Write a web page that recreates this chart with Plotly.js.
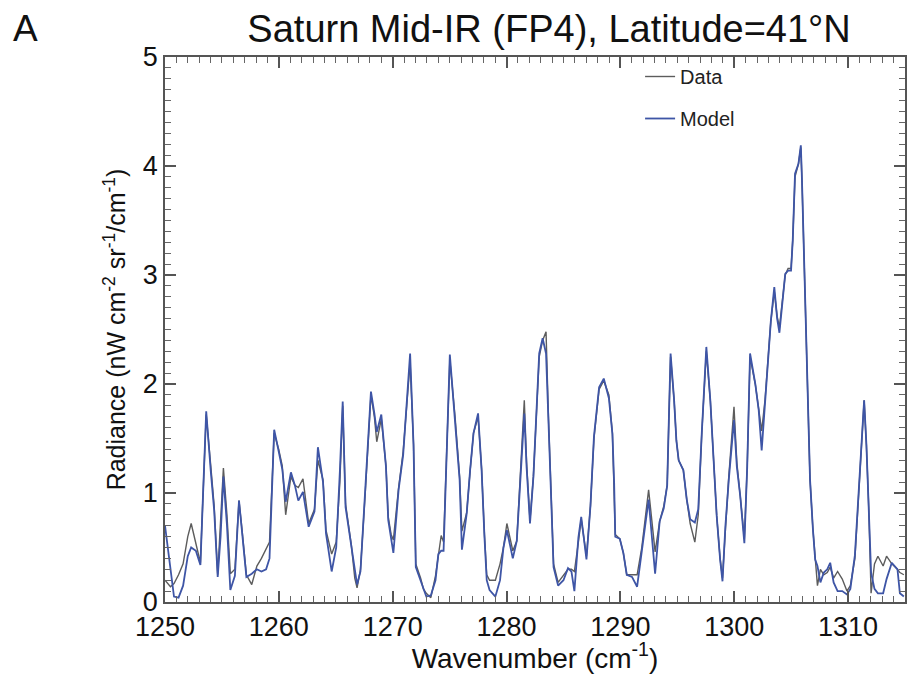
<!DOCTYPE html>
<html>
<head>
<meta charset="utf-8">
<script src="https://cdn.plot.ly/plotly-3.0.1.min.js"></script>
<style>html,body{margin:0;padding:0;background:#fff;}#chart{width:908px;height:674px;}</style>
</head>
<body>
<div id="chart"></div>
<script>
// Wavenumber (cm^-1) samples
const wavenumber = [
1250.00,1250.48,1250.79,1251.19,1251.59,1252.00,1252.30,1252.71,1253.11,1253.31,
1253.62,1254.02,1254.32,1254.63,1254.88,1255.13,1255.44,1255.74,1256.14,1256.50,
1256.75,1257.15,1257.62,1258.07,1258.47,1258.88,1259.18,1259.59,1259.99,1260.30,
1260.60,1261.06,1261.41,1261.71,1262.12,1262.62,1263.13,1263.43,1263.88,1264.14,
1264.64,1265.04,1265.36,1265.61,1265.86,1266.37,1266.67,1266.87,1267.17,1267.59,
1267.89,1268.09,1268.39,1268.60,1269.00,1269.41,1269.61,1269.86,1270.06,1270.52,
1270.92,1271.53,1271.83,1272.03,1272.45,1272.70,1272.95,1273.35,1273.76,1274.01,
1274.26,1274.47,1274.72,1275.02,1275.48,1275.88,1276.08,1276.50,1276.80,1277.10,
1277.50,1277.81,1278.06,1278.26,1278.51,1279.02,1279.43,1279.73,1280.03,1280.55,
1280.90,1281.25,1281.56,1281.76,1282.06,1282.36,1282.67,1282.87,1283.17,1283.47,
1283.68,1283.98,1284.13,1284.53,1285.00,1285.40,1285.70,1285.96,1286.31,1286.56,
1287.02,1287.37,1287.68,1288.13,1288.54,1288.99,1289.30,1289.45,1289.55,1289.95,
1290.26,1290.56,1291.02,1291.47,1291.88,1292.18,1292.48,1293.05,1293.45,1293.81,
1294.11,1294.26,1294.41,1294.72,1294.92,1295.12,1295.53,1295.83,1296.13,1296.54,
1296.84,1297.15,1297.55,1297.90,1298.21,1298.46,1298.76,1298.97,1299.22,1299.52,
1299.98,1300.23,1300.53,1300.89,1301.14,1301.39,1301.85,1302.15,1302.41,1302.71,
1303.01,1303.21,1303.52,1303.77,1303.97,1304.28,1304.48,1304.73,1304.99,1305.14,
1305.34,1305.64,1305.85,1305.95,1306.25,1306.45,1306.66,1306.91,1307.11,1307.31,
1307.57,1307.87,1308.17,1308.43,1308.73,1309.08,1309.49,1309.90,1310.20,1310.60,
1310.91,1311.21,1311.41,1311.61,1311.82,1312.02,1312.32,1312.62,1313.08,1313.38,
1313.84,1314.34,1314.55,1314.90
];
// Model radiance (nW cm^-2 sr^-1 / cm^-1)
const modelRadiance = [
0.70,0.30,0.05,0.04,0.15,0.42,0.50,0.47,0.34,0.90,
1.75,1.20,0.84,0.23,0.60,1.15,0.71,0.11,0.24,0.93,
0.66,0.23,0.26,0.30,0.28,0.30,0.40,1.58,1.38,1.22,
0.92,1.19,1.07,0.93,1.01,0.69,0.83,1.42,1.10,0.63,
0.28,0.50,1.20,1.84,0.87,0.52,0.28,0.16,0.28,1.00,
1.58,1.93,1.73,1.56,1.72,1.24,0.75,0.57,0.45,1.03,
1.35,2.28,1.44,0.32,0.20,0.11,0.05,0.06,0.20,0.44,
0.47,0.47,1.32,2.27,1.65,1.12,0.48,0.81,1.21,1.55,
1.73,1.21,0.60,0.20,0.11,0.05,0.20,0.50,0.66,0.40,
0.56,1.20,1.73,1.24,0.72,1.15,1.85,2.28,2.42,2.28,
1.67,0.75,0.32,0.15,0.20,0.31,0.28,0.10,0.59,0.78,
0.39,0.88,1.52,1.97,2.05,1.87,1.54,1.10,0.60,0.58,
0.45,0.25,0.23,0.14,0.47,0.74,0.94,0.26,0.74,0.86,
1.07,1.68,2.28,1.85,1.48,1.30,1.21,0.94,0.76,0.73,
0.85,1.55,2.34,1.85,1.30,0.79,0.39,0.19,0.69,1.12,
1.67,1.24,0.97,0.54,1.24,2.28,2.00,1.76,1.39,1.86,
2.35,2.57,2.89,2.60,2.47,2.80,3.01,3.04,3.04,3.32,
3.93,4.02,4.19,3.87,2.80,1.89,1.12,0.67,0.39,0.33,
0.18,0.27,0.30,0.36,0.18,0.10,0.10,0.07,0.12,0.43,
0.98,1.59,1.85,1.44,0.83,0.27,0.12,0.08,0.08,0.21,
0.36,0.30,0.08,0.05
];
// Observed (data) radiance
const dataRadiance = [
0.20,0.14,0.17,0.25,0.35,0.60,0.72,0.55,0.36,0.90,
1.72,1.25,0.88,0.25,0.70,1.23,0.80,0.26,0.30,0.93,
0.68,0.25,0.16,0.33,0.40,0.48,0.55,1.55,1.40,1.25,
0.80,1.15,1.07,1.05,1.13,0.72,0.85,1.30,1.12,0.66,
0.44,0.55,1.10,1.80,0.90,0.52,0.22,0.13,0.30,1.00,
1.58,1.90,1.70,1.47,1.68,1.25,0.78,0.62,0.57,1.05,
1.38,2.20,1.45,0.35,0.22,0.12,0.08,0.04,0.24,0.45,
0.61,0.55,1.30,2.22,1.70,1.15,0.65,0.82,1.20,1.55,
1.70,1.22,0.62,0.25,0.20,0.20,0.35,0.50,0.72,0.47,
0.56,1.25,1.85,1.28,0.75,1.15,1.85,2.25,2.40,2.48,
1.70,0.78,0.35,0.18,0.25,0.30,0.30,0.28,0.55,0.76,
0.42,0.88,1.50,1.95,2.03,1.90,1.55,1.10,0.62,0.58,
0.45,0.25,0.25,0.25,0.50,0.78,1.03,0.46,0.74,0.88,
1.07,1.68,2.25,1.85,1.48,1.30,1.21,0.94,0.72,0.55,
0.80,1.55,2.30,1.85,1.30,0.79,0.40,0.22,0.65,1.15,
1.79,1.28,0.97,0.58,1.24,2.25,2.00,1.76,1.57,1.86,
2.35,2.57,2.85,2.62,2.52,2.80,3.00,3.06,3.06,3.32,
3.90,4.02,4.17,3.87,2.80,1.89,1.12,0.67,0.39,0.15,
0.30,0.25,0.27,0.32,0.22,0.28,0.21,0.10,0.15,0.40,
0.95,1.55,1.85,1.44,0.85,0.08,0.35,0.42,0.33,0.42,
0.35,0.30,0.27,0.25
];
const seriesNames = ['Data', 'Model'];
const xRange = [1250, 1315];
const yRange = [0, 5];

const FONT = 'Liberation Sans, Arial, Helvetica, sans-serif';
const traces = [
  {x: wavenumber, y: dataRadiance, name: seriesNames[0], type: 'scatter', mode: 'lines',
   legendgroup: 'a', line: {color: '#5c5c5c', width: 1.4}},
  {x: wavenumber, y: modelRadiance, name: seriesNames[1], type: 'scatter', mode: 'lines',
   legendgroup: 'b', line: {color: '#3e55a6', width: 1.8}}
];
const layout = {
  width: 908, height: 674,
  margin: {l: 165, r: 3, t: 57, b: 72},
  paper_bgcolor: '#fff', plot_bgcolor: '#fff',
  font: {family: FONT, color: '#111'},
  title: {text: 'Saturn Mid-IR (FP4), Latitude=41°N', x: 0.519, xref: 'paper', xanchor: 'center',
          y: 0.958, yref: 'container', yanchor: 'middle', font: {family: FONT, size: 38, color: '#111'}},
  xaxis: {
    range: xRange, tickmode: 'linear', tick0: 1250, dtick: 10,
    showgrid: false, zeroline: false, showline: true, linecolor: '#555', linewidth: 1.5,
    mirror: 'ticks', ticks: 'inside', ticklen: 11, tickwidth: 1.6, tickcolor: '#555',
    minor: {ticks: 'inside', dtick: 1, ticklen: 6, tickwidth: 1.3, tickcolor: '#666', showgrid: false},
    tickfont: {family: FONT, size: 27, color: '#111'},
    title: {text: 'Wavenumber (cm<sup>-1</sup>)', standoff: 10, font: {family: FONT, size: 28, color: '#111'}}
  },
  yaxis: {
    range: yRange, tickmode: 'linear', tick0: 0, dtick: 1,
    showgrid: false, zeroline: false, showline: true, linecolor: '#555', linewidth: 1.5,
    mirror: 'ticks', ticks: 'inside', ticklen: 11, tickwidth: 1.6, tickcolor: '#555',
    minor: {ticks: 'inside', dtick: 0.1, ticklen: 6, tickwidth: 1.3, tickcolor: '#666', showgrid: false},
    tickfont: {family: FONT, size: 27, color: '#111'},
    title: {text: 'Radiance (nW cm<sup>-2</sup> sr<sup>-1</sup>/cm<sup>-1</sup>)', standoff: 10,
            font: {family: FONT, size: 25, color: '#111'}}
  },
  showlegend: true,
  legend: {x: 0.642, xanchor: 'left', y: 1.0, yanchor: 'top', bgcolor: 'rgba(0,0,0,0)',
           borderwidth: 0, traceorder: 'grouped', tracegroupgap: 13, itemwidth: 30,
           font: {family: FONT, size: 20, color: '#222'}},
  annotations: [{text: 'A', xref: 'paper', yref: 'paper', x: -0.188, y: 1.053,
                 xanchor: 'center', yanchor: 'middle', showarrow: false,
                 font: {family: FONT, size: 37, color: '#111'}}]
};
Plotly.newPlot('chart', traces, layout, {displayModeBar: false});
</script>
</body>
</html>
